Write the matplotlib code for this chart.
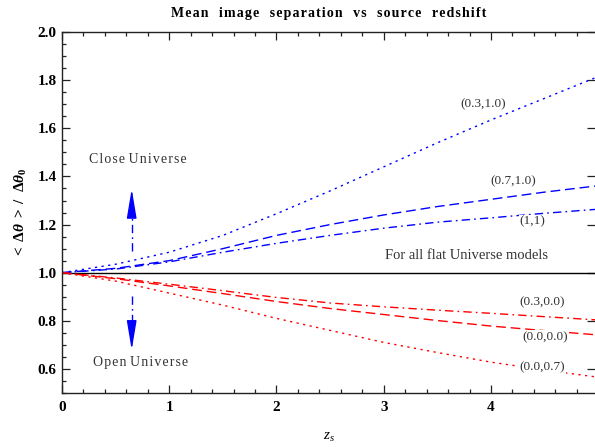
import matplotlib
matplotlib.use('Agg')
import matplotlib.pyplot as plt

plt.rcParams['font.family'] = ['Liberation Serif', 'DejaVu Serif']
plt.rcParams['mathtext.fontset'] = 'custom'
plt.rcParams['mathtext.rm'] = 'Liberation Serif'
plt.rcParams['mathtext.it'] = 'Liberation Serif:italic'
plt.rcParams['mathtext.bf'] = 'Liberation Serif:bold'
plt.rcParams['mathtext.sf'] = 'Liberation Serif:bold:italic'

# source redshift samples
z = [0.0, 0.5, 1.0, 1.5, 2.0, 2.5, 3.0, 3.5, 4.0, 4.5, 4.97]

# closed models (blue)
close_03_10 = [1.00, 1.035, 1.085, 1.155, 1.245, 1.34, 1.44, 1.54, 1.635, 1.725, 1.81]
close_07_10 = [1.00, 1.018, 1.05, 1.10, 1.155, 1.20, 1.24, 1.275, 1.305, 1.335, 1.36]
close_1_1 = [1.00, 1.015, 1.045, 1.085, 1.122, 1.155, 1.185, 1.21, 1.228, 1.247, 1.263]

# open models (red)
open_03_00 = [1.00, 0.978, 0.952, 0.925, 0.897, 0.874, 0.858, 0.844, 0.831, 0.817, 0.804]
open_00_00 = [1.00, 0.975, 0.945, 0.913, 0.88, 0.851, 0.826, 0.801, 0.778, 0.759, 0.742]
open_00_07 = [1.00, 0.965, 0.915, 0.865, 0.81, 0.76, 0.71, 0.668, 0.628, 0.595, 0.567]

labels = ['(0.3,1.0)', '(0.7,1.0)', '(1,1)', '(0.3,0.0)', '(0.0,0.0)', '(0.0,0.7)']
label_x = [3.93, 4.21, 4.39, 4.48, 4.51, 4.48]
label_y = [1.70, 1.38, 1.213, 0.875, 0.733, 0.608]

arrow_x = 0.65
up_arrow = [1.09, 1.36]
down_arrow = [0.904, 0.667]

HS = '\u200a'  # hair space, for letter spacing


def spaced(s):
    return HS.join(s)


fig = plt.figure(figsize=(5.95, 4.47), dpi=100)
ax = fig.add_axes([0.1042, 0.121, 0.8958, 0.807])

dot = (0, (1.6, 3.2))
dash = (0, (7, 3.5))
dashdot = (0, (6, 3, 1.2, 3))

ax.axhline(1.0, color='black', lw=1.0)
ax.plot(z, close_03_10, color='blue', lw=1.0, linestyle=dot)
ax.plot(z, close_07_10, color='blue', lw=1.0, linestyle=dash)
ax.plot(z, close_1_1, color='blue', lw=1.0, linestyle=dashdot)
ax.plot(z, open_03_00, color='red', lw=1.0, linestyle=dashdot)
ax.plot(z, open_00_00, color='red', lw=1.0, linestyle=dash)
ax.plot(z, open_00_07, color='red', lw=1.0, linestyle=dot)

for t, x, y in zip(labels, label_x, label_y):
    ax.text(x, y, t, fontsize=9.5, color='#333333', ha='center', va='center', zorder=5,
            bbox=dict(facecolor='white', edgecolor='none', pad=0.5))

# arrows for close / open universe
for a in [up_arrow, down_arrow]:
    head = 0.09 if a[1] > a[0] else -0.09
    ax.plot([arrow_x, arrow_x], [a[0], a[1] - head], color='blue', lw=1.0, linestyle=dashdot)
    ax.annotate('', xy=(arrow_x, a[1]), xytext=(arrow_x, a[1] - head),
                arrowprops=dict(arrowstyle='-|>,head_width=0.3,head_length=1.8',
                                color='blue', lw=1.0))

ax.text(0.71, 1.47, spaced('Close') + ' ' + spaced('Universe'), fontsize=10,
        color='#333333', ha='center', va='center')
ax.text(0.73, 0.625, spaced('Open') + ' ' + spaced('Universe'), fontsize=10,
        color='#333333', ha='center', va='center')
ax.text(3.77, 1.07, 'For all flat Universe models', fontsize=10.5, color='#333333',
        ha='center', va='center')

ax.set_xlim(0, 4.97)
ax.set_ylim(0.5, 2.0)
ax.set_xticks([0, 1, 2, 3, 4])
ax.set_xticks([i * 0.2 for i in range(25)], minor=True)
ax.set_yticks([0.6, 0.8, 1.0, 1.2, 1.4, 1.6, 1.8, 2.0])
ax.set_yticks([0.5 + i * 0.05 for i in range(31)], minor=True)
ax.set_xticklabels(['0', '1', '2', '3', '4'], fontweight='bold', fontsize=11)
ax.set_yticklabels(['0.6', '0.8', '1.0', '1.2', '1.4', '1.6', '1.8', '2.0'],
                   fontweight='bold', fontsize=11)
ax.tick_params(which='both', direction='in', top=True, right=True, width=0.9, color='#222222')
ax.tick_params(which='major', length=6, pad=6)
ax.tick_params(which='minor', length=3)
ax.tick_params(axis='y', which='minor', right=False)
ax.tick_params(axis='y', which='major', pad=4)
ax.spines['right'].set_visible(False)
for s in ['left', 'bottom', 'top']:
    ax.spines[s].set_linewidth(1.0)
    ax.spines[s].set_color('#222222')

title = '   '.join(spaced(w) for w in ['Mean', 'image', 'separation', 'vs', 'source', 'redshift'])
ax.set_title(title, fontsize=10, fontweight='bold', pad=11)
ax.set_xlabel(r'$z_s$', fontsize=11, labelpad=12)
ax.set_ylabel(r'$\mathbf{<\ \Delta}\mathsf{\theta}\mathbf{\ >\ /\ \ \Delta}\mathsf{\theta}_\mathbf{0}$',
              fontsize=11, labelpad=6)

fig.savefig('out.png', dpi=100)
